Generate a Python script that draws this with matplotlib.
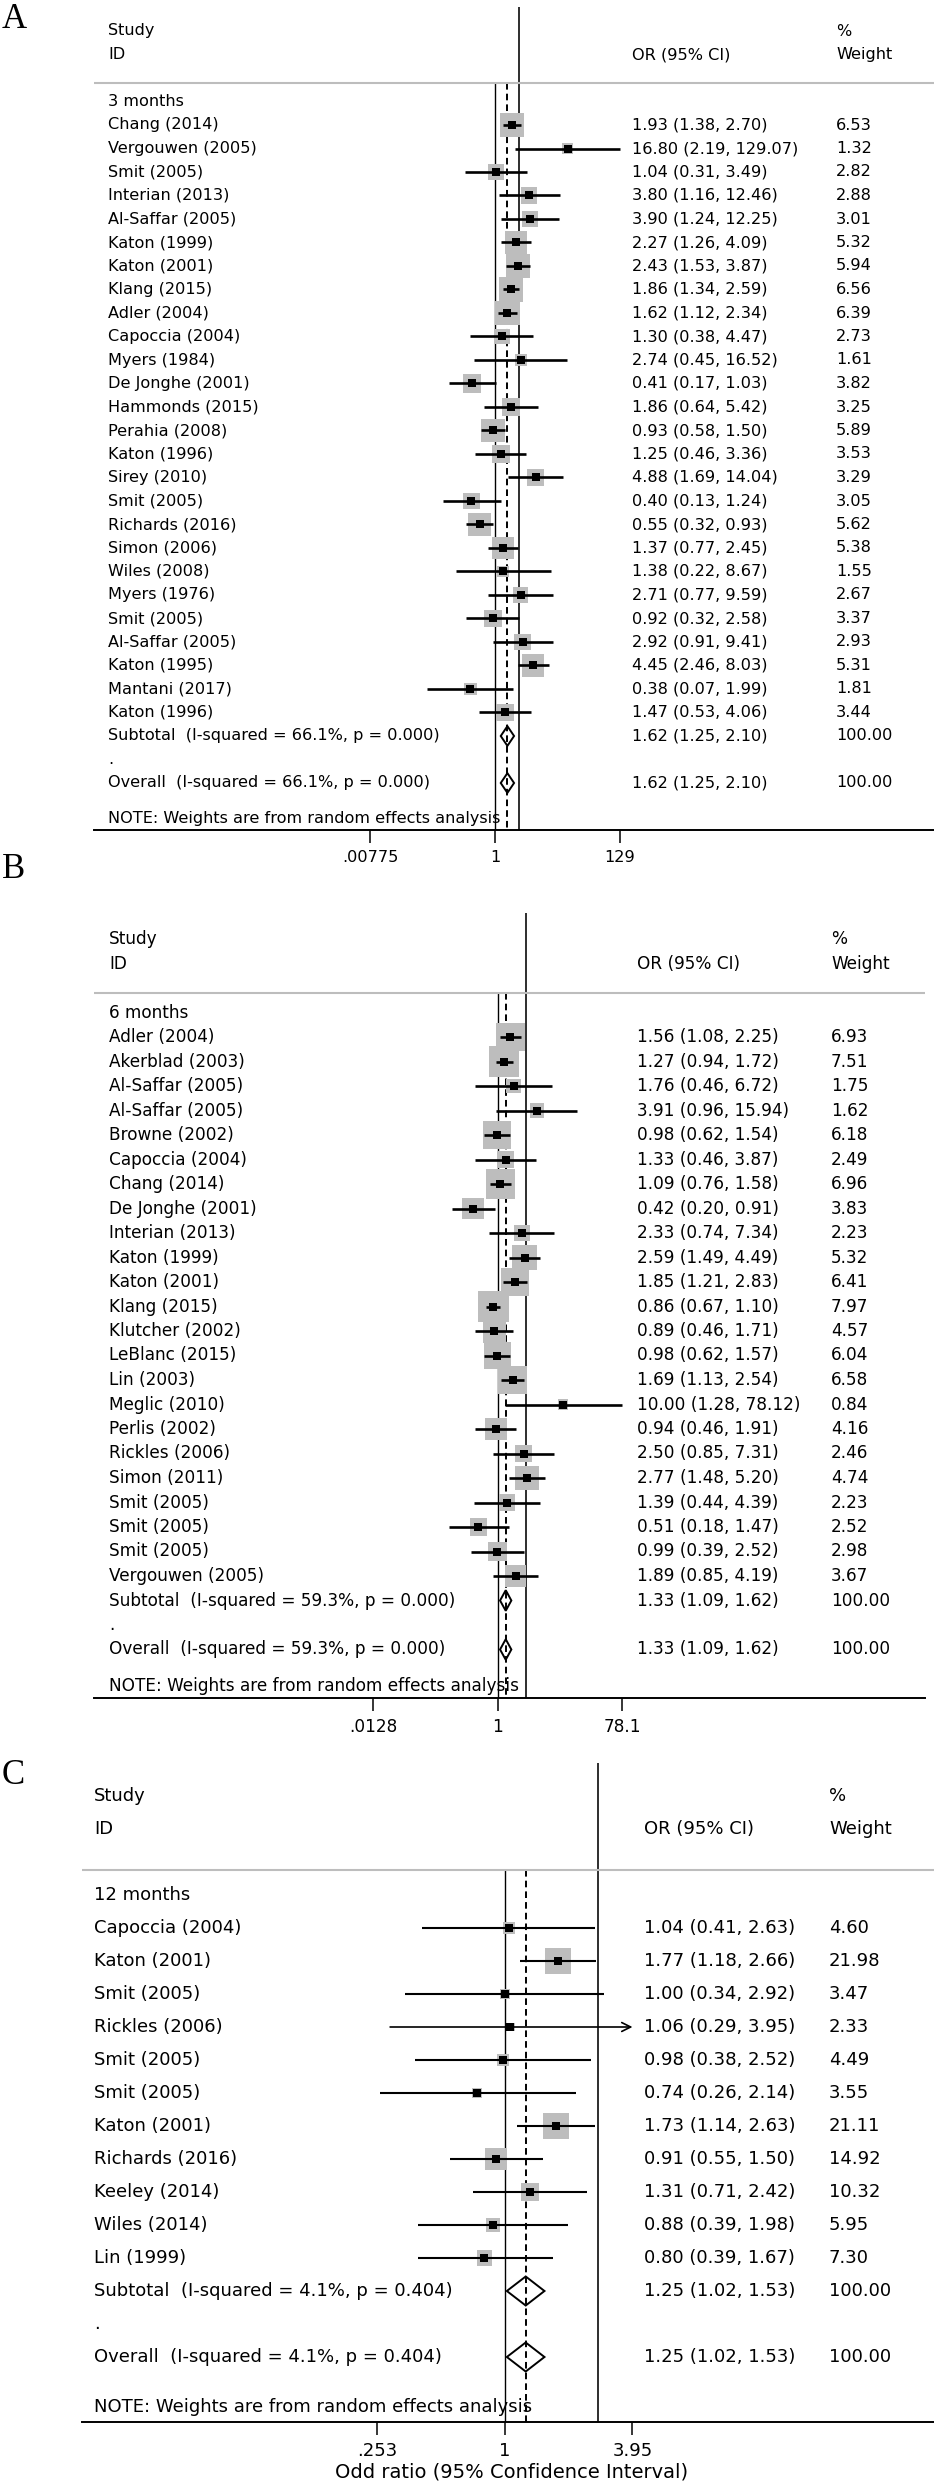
import numpy as np
import matplotlib.pyplot as plt
from matplotlib.ticker import NullLocator
from matplotlib.transforms import blended_transform_factory

W, H, DPI = 934, 2484, 100

# ---- A: 3 months
a_names = ["Chang (2014)", "Vergouwen (2005)", "Smit (2005)", "Interian (2013)",
           "Al-Saffar (2005)", "Katon (1999)", "Katon (2001)", "Klang (2015)",
           "Adler (2004)", "Capoccia (2004)", "Myers (1984)", "De Jonghe (2001)",
           "Hammonds (2015)", "Perahia (2008)", "Katon (1996)", "Sirey (2010)",
           "Smit (2005)", "Richards (2016)", "Simon (2006)", "Wiles (2008)",
           "Myers (1976)", "Smit (2005)", "Al-Saffar (2005)", "Katon (1995)",
           "Mantani (2017)", "Katon (1996)"]
a_or = [1.93, 16.80, 1.04, 3.80, 3.90, 2.27, 2.43, 1.86, 1.62, 1.30, 2.74, 0.41, 1.86,
        0.93, 1.25, 4.88, 0.40, 0.55, 1.37, 1.38, 2.71, 0.92, 2.92, 4.45, 0.38, 1.47]
a_lo = [1.38, 2.19, 0.31, 1.16, 1.24, 1.26, 1.53, 1.34, 1.12, 0.38, 0.45, 0.17, 0.64,
        0.58, 0.46, 1.69, 0.13, 0.32, 0.77, 0.22, 0.77, 0.32, 0.91, 2.46, 0.07, 0.53]
a_hi = [2.70, 129.07, 3.49, 12.46, 12.25, 4.09, 3.87, 2.59, 2.34, 4.47, 16.52, 1.03, 5.42,
        1.50, 3.36, 14.04, 1.24, 0.93, 2.45, 8.67, 9.59, 2.58, 9.41, 8.03, 1.99, 4.06]
a_wt = [6.53, 1.32, 2.82, 2.88, 3.01, 5.32, 5.94, 6.56, 6.39, 2.73, 1.61, 3.82, 3.25,
        5.89, 3.53, 3.29, 3.05, 5.62, 5.38, 1.55, 2.67, 3.37, 2.93, 5.31, 1.81, 3.44]
a_pooled = [1.62, 1.25, 2.10]
a_het = "I-squared = 66.1%, p = 0.000"
a_ticks = [0.00775, 1, 129]
a_ticklabels = [".00775", "1", "129"]

# ---- B: 6 months
b_names = ["Adler (2004)", "Akerblad (2003)", "Al-Saffar (2005)", "Al-Saffar (2005)",
           "Browne (2002)", "Capoccia (2004)", "Chang (2014)", "De Jonghe (2001)",
           "Interian (2013)", "Katon (1999)", "Katon (2001)", "Klang (2015)",
           "Klutcher (2002)", "LeBlanc (2015)", "Lin (2003)", "Meglic (2010)",
           "Perlis (2002)", "Rickles (2006)", "Simon (2011)", "Smit (2005)",
           "Smit (2005)", "Smit (2005)", "Vergouwen (2005)"]
b_or = [1.56, 1.27, 1.76, 3.91, 0.98, 1.33, 1.09, 0.42, 2.33, 2.59, 1.85, 0.86,
        0.89, 0.98, 1.69, 10.00, 0.94, 2.50, 2.77, 1.39, 0.51, 0.99, 1.89]
b_lo = [1.08, 0.94, 0.46, 0.96, 0.62, 0.46, 0.76, 0.20, 0.74, 1.49, 1.21, 0.67,
        0.46, 0.62, 1.13, 1.28, 0.46, 0.85, 1.48, 0.44, 0.18, 0.39, 0.85]
b_hi = [2.25, 1.72, 6.72, 15.94, 1.54, 3.87, 1.58, 0.91, 7.34, 4.49, 2.83, 1.10,
        1.71, 1.57, 2.54, 78.12, 1.91, 7.31, 5.20, 4.39, 1.47, 2.52, 4.19]
b_wt = [6.93, 7.51, 1.75, 1.62, 6.18, 2.49, 6.96, 3.83, 2.23, 5.32, 6.41, 7.97,
        4.57, 6.04, 6.58, 0.84, 4.16, 2.46, 4.74, 2.23, 2.52, 2.98, 3.67]
b_pooled = [1.33, 1.09, 1.62]
b_het = "I-squared = 59.3%, p = 0.000"
b_ticks = [0.0128, 1, 78.1]
b_ticklabels = [".0128", "1", "78.1"]

# ---- C: 12 months
c_names = ["Capoccia (2004)", "Katon (2001)", "Smit (2005)", "Rickles (2006)",
           "Smit (2005)", "Smit (2005)", "Katon (2001)", "Richards (2016)",
           "Keeley (2014)", "Wiles (2014)", "Lin (1999)"]
c_or = [1.04, 1.77, 1.00, 1.06, 0.98, 0.74, 1.73, 0.91, 1.31, 0.88, 0.80]
c_lo = [0.41, 1.18, 0.34, 0.29, 0.38, 0.26, 1.14, 0.55, 0.71, 0.39, 0.39]
c_hi = [2.63, 2.66, 2.92, 3.95, 2.52, 2.14, 2.63, 1.50, 2.42, 1.98, 1.67]
c_wt = [4.60, 21.98, 3.47, 2.33, 4.49, 3.55, 21.11, 14.92, 10.32, 5.95, 7.30]
c_pooled = [1.25, 1.02, 1.53]
c_het = "I-squared = 4.1%, p = 0.404"
c_ticks = [0.253, 1, 3.95]
c_ticklabels = [".253", "1", "3.95"]
c_clipped = ["Rickles (2006)"]

GRAY = "#bdbdbd"
fig = plt.figure(figsize=(W / DPI, H / DPI), dpi=DPI)


def forest(letter, letter_y, group, names, est, lo, hi, wt, pooled, het, ticks, ticklabels,
           left, right, top, bottom, y1, dy, x_one, ppd, cols, fs, box_k, thick_or,
           hdr_row, clipped=(), lw_ci=1.9, diam_h=0.42):
    ax = fig.add_axes([left / W, 1 - bottom / H, (right - left) / W, (bottom - top) / H])
    top_row = (top - y1) / dy + 1
    bot_row = (bottom - y1) / dy + 1
    ax.set_ylim(bot_row, top_row)
    ax.set_xscale("log")
    ax.set_xlim(10 ** ((left - x_one) / ppd), 10 ** ((right - x_one) / ppd))
    xmin, xmax = min(ticks), max(ticks)

    n = len(names)
    rows = np.arange(1, n + 1)
    est = np.array(est); lo = np.array(lo); hi = np.array(hi); wt = np.array(wt)

    # reference lines
    ax.vlines(1, hdr_row, bot_row, color="k", lw=1.0, zorder=1)
    ax.vlines(pooled[0], hdr_row, bot_row, color="k", lw=1.4,
              linestyles=(0, (3.4, 2.1)), zorder=1)
    ax.axvline(thick_or, color="k", lw=1.15, zorder=1)
    ax.axhline(hdr_row, color=GRAY, lw=1.5, zorder=1)

    # weight boxes
    ax.scatter(est, rows, marker="s", s=(box_k * np.sqrt(wt) * 0.72) ** 2,
               color=GRAY, linewidths=0, zorder=2)
    # confidence intervals
    for r, name, l, h in zip(rows, names, lo, hi):
        l2, h2 = max(l, xmin), min(h, xmax)
        if name in clipped:
            ax.annotate("", xy=(h2, r), xytext=(l2, r),
                        arrowprops=dict(arrowstyle="->", lw=lw_ci * 0.8, color="k",
                                        shrinkA=0, shrinkB=0, mutation_scale=16), zorder=3)
        else:
            ax.plot([l2, h2], [r, r], color="k", lw=lw_ci, solid_capstyle="butt", zorder=3)
    ax.scatter(est, rows, marker="s", s=33, color="k", linewidths=0, zorder=4)

    # pooled diamonds
    for r in (n + 1, n + 3):
        ax.fill([pooled[1], pooled[0], pooled[2], pooled[0]],
                [r, r - diam_h, r, r + diam_h], facecolor="none", edgecolor="k",
                lw=1.4, zorder=4)

    # text columns
    tr = blended_transform_factory(fig.transFigure, ax.transData)
    xs, xc, xw = cols[0] / W, cols[1] / W, cols[2] / W
    kw = dict(transform=tr, va="center", ha="left", fontsize=fs, zorder=5)
    ax.text(xs, -3, "Study", **kw)
    ax.text(xs, -2, "ID", **kw)
    ax.text(xc, -2, "OR (95% CI)", **kw)
    ax.text(xw, -3, "%", **kw)
    ax.text(xw, -2, "Weight", **kw)
    ax.text(xs, 0, group, **kw)
    for r, name, e, l, h, w in zip(rows, names, est, lo, hi, wt):
        ax.text(xs, r, name, **kw)
        ax.text(xc, r, f"{e:.2f} ({l:.2f}, {h:.2f})", **kw)
        ax.text(xw, r, f"{w:.2f}", **kw)
    pooled_txt = f"{pooled[0]:.2f} ({pooled[1]:.2f}, {pooled[2]:.2f})"
    ax.text(xs, n + 1, f"Subtotal  ({het})", **kw)
    ax.text(xc, n + 1, pooled_txt, **kw)
    ax.text(xw, n + 1, "100.00", **kw)
    ax.text(xs, n + 2, ".", **kw)
    ax.text(xs, n + 3, f"Overall  ({het})", **kw)
    ax.text(xc, n + 3, pooled_txt, **kw)
    ax.text(xw, n + 3, "100.00", **kw)
    ax.text(xs, n + 4.5, "NOTE: Weights are from random effects analysis", **kw)

    for s in ("top", "left", "right"):
        ax.spines[s].set_visible(False)
    ax.spines["bottom"].set_linewidth(1.4)
    ax.set_yticks([])
    ax.set_xticks(ticks)
    ax.set_xticklabels(ticklabels)
    ax.xaxis.set_minor_locator(NullLocator())
    ax.tick_params(axis="x", length=9.5, width=1.1, pad=5, labelsize=fs)
    ax.patch.set_alpha(0)

    fig.text(2 / W, 1 - letter_y / H, letter, family="Liberation Serif", fontsize=25,
             va="center", ha="left")
    return ax


forest("A", 20, "3 months", a_names, a_or, a_lo, a_hi, a_wt, a_pooled, a_het,
       a_ticks, a_ticklabels, left=94, right=934, top=7, bottom=830, y1=125, dy=23.5,
       x_one=495, ppd=59.2, cols=(108, 632, 836), fs=11.6, box_k=9.6, thick_or=2.54,
       hdr_row=-0.79)
forest("B", 870, "6 months", b_names, b_or, b_lo, b_hi, b_wt, b_pooled, b_het,
       b_ticks, b_ticklabels, left=94, right=925, top=913, bottom=1698, y1=1037, dy=24.5,
       x_one=497.6, ppd=65.7, cols=(109, 637, 831), fs=12.2, box_k=11, thick_or=2.7,
       hdr_row=-0.8)
forest("C", 1775, "12 months", c_names, c_or, c_lo, c_hi, c_wt, c_pooled, c_het,
       c_ticks, c_ticklabels, left=82, right=934, top=1763, bottom=2422, y1=1928,
       dy=33, x_one=505, ppd=213.7, cols=(94, 644, 829), fs=13, box_k=5.7,
       thick_or=2.72, hdr_row=-0.76, clipped=c_clipped, lw_ci=1.5, diam_h=0.44)

fig.text(512 / W, 1 - 2472 / H, "Odd ratio (95% Confidence Interval)", ha="center",
         va="center", fontsize=14)

fig.savefig("out.png", dpi=DPI)
